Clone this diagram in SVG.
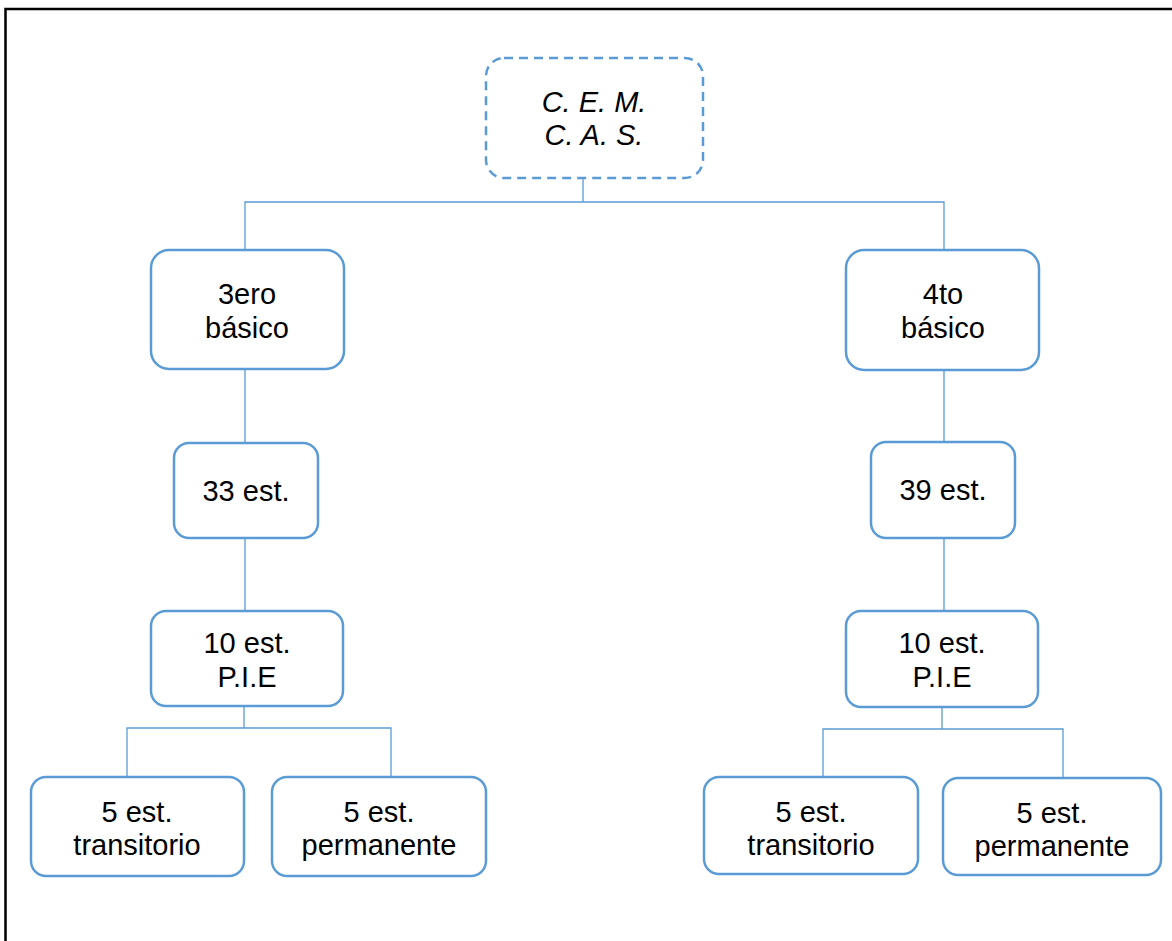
<svg xmlns="http://www.w3.org/2000/svg" width="1172" height="941" viewBox="0 0 1172 941">
<style>
.box{fill:#fff;stroke:#5B9BD5;stroke-width:2.5}
.dash{stroke-dasharray:9 6}
.conn{fill:none;stroke:#5B9BD5;stroke-width:1.3}
text{font-family:"Liberation Sans",Arial,sans-serif;font-size:29px;fill:#000;text-anchor:middle}
.it{font-style:italic}
</style>
<rect width="1172" height="941" fill="#fff"/>
<path d="M5.5,941 V9 H1172" fill="none" stroke="#000" stroke-width="2.5"/>
<g id="connectors">
<path class="conn" d="M583,178 V202 M245,250 V202 H944 V250"/>
<path class="conn" d="M245,369 V443 M245,538 V611"/>
<path class="conn" d="M944,370 V442 M944,538 V611"/>
<path class="conn" d="M244,706 V728 M127,777 V728 H391 V777"/>
<path class="conn" d="M942,707 V729 M823,777 V729 H1063 V777"/>
</g>
<g id="root">
<rect class="box dash" x="486" y="58" width="217" height="120" rx="18"/>
<text class="it" x="594" y="112">C. E. M.</text>
<text class="it" x="594" y="145">C. A. S.</text>
</g>
<g id="n3ero">
<rect class="box" x="151" y="250" width="193" height="119" rx="18"/>
<text x="247" y="304">3ero</text>
<text x="247" y="338">básico</text>
</g>
<g id="n4to">
<rect class="box" x="846" y="250" width="193" height="120" rx="18"/>
<text x="943" y="304">4to</text>
<text x="943" y="338">básico</text>
</g>
<g id="n33">
<rect class="box" x="174" y="443" width="144" height="95" rx="15"/>
<text x="246" y="501">33 est.</text>
</g>
<g id="n39">
<rect class="box" x="871" y="442" width="144" height="96" rx="15"/>
<text x="943" y="500">39 est.</text>
</g>
<g id="pieL">
<rect class="box" x="151" y="611" width="192" height="95" rx="15"/>
<text x="247" y="653">10 est.</text>
<text x="247" y="687">P.I.E</text>
</g>
<g id="pieR">
<rect class="box" x="846" y="611" width="192" height="96" rx="15"/>
<text x="942" y="653">10 est.</text>
<text x="942" y="687">P.I.E</text>
</g>
<g id="transL">
<rect class="box" x="31" y="777" width="213" height="99" rx="15"/>
<text x="137" y="822">5 est.</text>
<text x="137" y="855">transitorio</text>
</g>
<g id="permL">
<rect class="box" x="272" y="777" width="214" height="99" rx="15"/>
<text x="379" y="822">5 est.</text>
<text x="379" y="855">permanente</text>
</g>
<g id="transR">
<rect class="box" x="704" y="777" width="214" height="97" rx="15"/>
<text x="811" y="822">5 est.</text>
<text x="811" y="855">transitorio</text>
</g>
<g id="permR">
<rect class="box" x="943" y="778" width="218" height="97" rx="15"/>
<text x="1052" y="823">5 est.</text>
<text x="1052" y="856">permanente</text>
</g>
</svg>
